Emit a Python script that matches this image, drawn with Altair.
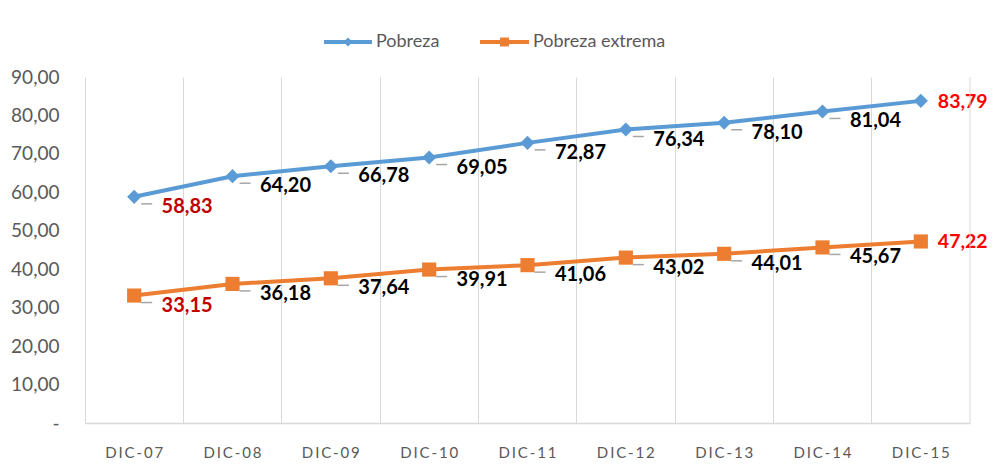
import altair as alt
import pandas as pd

categories = ["DIC-07", "DIC-08", "DIC-09", "DIC-10", "DIC-11", "DIC-12", "DIC-13", "DIC-14", "DIC-15"]
pobreza = [58.83, 64.20, 66.78, 69.05, 72.87, 76.34, 78.10, 81.04, 83.79]
pobreza_extrema = [33.15, 36.18, 37.64, 39.91, 41.06, 43.02, 44.01, 45.67, 47.22]
y_ticks = [0, 10, 20, 30, 40, 50, 60, 70, 80, 90]
series_names = ["Pobreza", "Pobreza extrema"]
series_colors = ["#5B9BD5", "#ED7D31"]
series_shapes = ["diamond", "square"]

rows = []
for name, vals in zip(series_names, [pobreza, pobreza_extrema]):
    n = len(vals)
    for i, (c, v) in enumerate(zip(categories, vals)):
        if i == 0:
            lc = "#C00000"
        elif i == n - 1:
            lc = "#FF0000"
        else:
            lc = "#000000"
        rows.append({"cat": c, "serie": name, "valor": v,
                     "txt": f"{v:.2f}".replace(".", ","),
                     "lcolor": lc, "last": i == n - 1})
df = pd.DataFrame(rows)

FONT = "Lato"
W, H = 885, 346

xenc = alt.X("cat:N", sort=categories, title=None,
             scale=alt.Scale(paddingInner=0, paddingOuter=0),
             axis=alt.Axis(bandPosition=0, grid=True, gridColor="#D9D9D9", gridWidth=1,
                           ticks=False, domainColor="#D9D9D9", domainWidth=1.5,
                           labelPadding=22, labelFontSize=15, labelColor="#595959",
                           labelFont=FONT, labelAngle=0, labelOverlap=False,
                           labelExpr="join(split(datum.label, ''), '\u2009')"))
yenc = alt.Y("valor:Q", title=None,
             scale=alt.Scale(domain=[0, 90], nice=False),
             axis=alt.Axis(values=y_ticks, tickCount=10, grid=False, domain=False, ticks=False,
                           labelPadding=26, labelFontSize=19, labelColor="#595959", labelFont=FONT,
                           labelOverlap=False, labelFlush=False,
                           labelExpr="datum.value == 0 ? '-' : replace(format(datum.value, '.2f'), '.', ',')"))
color = alt.Color("serie:N", scale=alt.Scale(domain=series_names, range=series_colors), legend=None)
shape = alt.Shape("serie:N", scale=alt.Scale(domain=series_names, range=series_shapes), legend=None)

base = alt.Chart(df)

lines = base.mark_line(strokeWidth=4).encode(x=xenc, y=yenc, color=color)
points = base.mark_point(filled=True, size=200, opacity=1).encode(x=xenc, y=yenc, color=color, shape=shape)

leaders = base.transform_filter("!datum.last").mark_rule(
    color="#A6A6A6", strokeWidth=1.5, xOffset=7, x2Offset=18, yOffset=7, y2Offset=7
).encode(x=xenc, x2="cat:N", y=yenc, y2="valor:Q")

labels = base.transform_filter("!datum.last").mark_text(
    font=FONT, fontSize=20, fontWeight="bold", align="center", dx=53, dy=10
).encode(x=xenc, y=yenc, text="txt:N",
         color=alt.Color("lcolor:N", scale=None))

last_labels = base.transform_filter("datum.last").mark_text(
    font=FONT, fontSize=19.5, fontWeight="bold", align="left", dx=17, dy=1
).encode(x=xenc, y=yenc, text="txt:N",
         color=alt.Color("lcolor:N", scale=None))

right_edge = alt.Chart(pd.DataFrame({"a": [0]})).mark_rule(color="#D9D9D9", strokeWidth=1).encode(
    x=alt.value(W), y=alt.value(0), y2=alt.value(H))

# manual legend
leg = pd.DataFrame({"serie": series_names, "x1": [239, 395], "x2": [287, 444], "tx": [291, 448]})
leg_base = alt.Chart(leg)
leg_layers = []
for i, name in enumerate(series_names):
    sub = leg_base.transform_filter(alt.datum.serie == name)
    x1, x2, tx = leg.loc[i, "x1"], leg.loc[i, "x2"], leg.loc[i, "tx"]
    leg_layers.append(sub.mark_rule(strokeWidth=4, color=series_colors[i]).encode(
        x=alt.value(float(x1)), x2=alt.value(float(x2)), y=alt.value(-35)))
    leg_layers.append(sub.mark_point(filled=True, opacity=1, size=80, shape=series_shapes[i],
                                     color=series_colors[i]).encode(
        x=alt.value(float((x1 + x2) / 2)), y=alt.value(-35)))
    leg_layers.append(sub.mark_text(align="left", baseline="middle", font=FONT, fontSize=18,
                                    color="#595959").encode(
        x=alt.value(float(tx)), y=alt.value(-35), text="serie:N"))

chart = alt.layer(lines, points, leaders, labels, last_labels, right_edge, *leg_layers).properties(
    width=W, height=H,
    padding={"left": 77, "top": 69, "right": 18, "bottom": 40},
    autosize=alt.AutoSizeParams(type="none"),
    background="white",
).configure_view(stroke=None).resolve_scale(color="independent", shape="independent")

chart.save("out.html", embed_options={"renderer": "svg", "actions": False})
